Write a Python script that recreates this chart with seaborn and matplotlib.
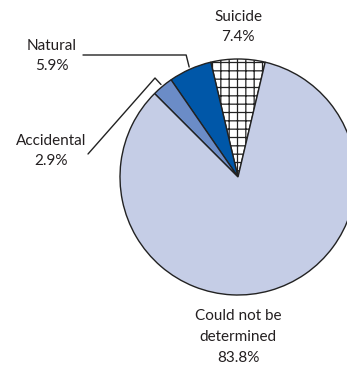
import numpy as np
import matplotlib
matplotlib.use("Agg")
import matplotlib.pyplot as plt
import seaborn as sns

labels = ["Suicide", "Natural", "Accidental", "Could not be\ndetermined"]
shares = [7.4, 5.9, 2.9, 83.8]
colors = ["#ffffff", "#0057a8", "#6b8cc7", "#c5cde6"]
hatches = ["++", "", "", ""]

sns.set_theme(style="white")
plt.rcParams["font.family"] = ["Lato", "DejaVu Sans"]
plt.rcParams["hatch.linewidth"] = 0.9
plt.rcParams["hatch.color"] = "#222222"

W, H = 347, 367
fig = plt.figure(figsize=(W / 100, H / 100), dpi=100)
ax = fig.add_axes([0, 0, 1, 1])

cx, cy, r = 238, H - 177, 118
start = 90 - shares[0] / 100 * 360 / 2
wedges, _ = ax.pie(shares, colors=colors, startangle=start, counterclock=True,
                   center=(cx, cy), radius=r, frame=True,
                   wedgeprops=dict(edgecolor="#222222", linewidth=1.0))
for w, h in zip(wedges, hatches):
    w.set_hatch(h)
ax.set_xlim(0, W)
ax.set_ylim(0, H)
ax.set_aspect("equal")
ax.axis("off")

# mid angles of each slice for leader lines
bounds = start + np.cumsum([0] + shares) / 100 * 360
mids = (bounds[:-1] + bounds[1:]) / 2

def edge(i, k=1.02):
    a = np.deg2rad(mids[i])
    return cx + k * r * np.cos(a), cy + k * r * np.sin(a)

txt = dict(ha="center", va="center", fontsize=11, color="#231f20", linespacing=1.6)

ax.text(cx, H - 27, f"{labels[0]}\n{shares[0]}%", **txt)
ax.text(52, H - 56, f"{labels[1]}\n{shares[1]}%", **txt)
ax.text(51, H - 151, f"{labels[2]}\n{shares[2]}%", **txt)
ax.text(cx, H - 337, f"{labels[3]}\n{shares[3]}%", **txt)

# leader lines
ex, ey = edge(1)
ax.plot([83, ex - 3, ex], [H - 55, H - 55, ey], color="#222222", lw=1, clip_on=False)
ex, ey = edge(2)
ax.plot([88, 155, ex], [H - 154, H - 78, ey], color="#222222", lw=1, clip_on=False)

fig.savefig("out.png", dpi=100, facecolor="white")
